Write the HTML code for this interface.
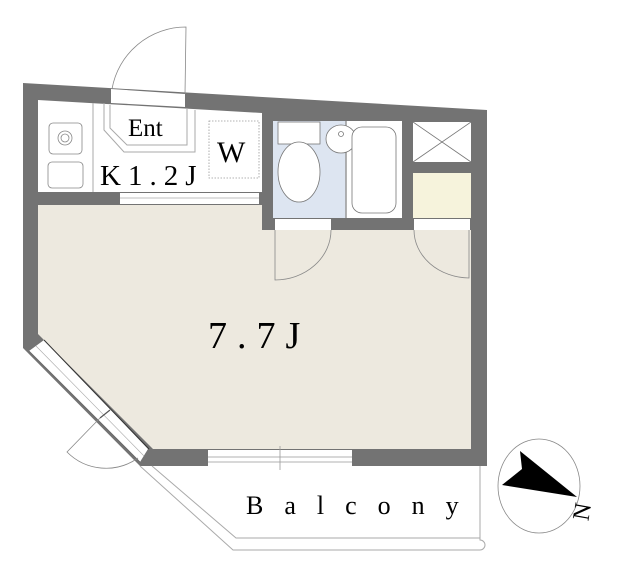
<!DOCTYPE html>
<html><head><meta charset="utf-8"><style>body{margin:0;background:#fff}svg{display:block}</style></head><body>
<svg width="640" height="571" viewBox="0 0 640 571" xmlns="http://www.w3.org/2000/svg" font-family="Liberation Serif, serif">
<polygon points="23,83 487,110 487,466 140,466 23,348" fill="#737373"/>
<polygon points="38,100 262,113 262,192 38,192" fill="#fff"/>
<polygon points="38,205 262,205 262,230 471,230 471,449 153,449 38,334" fill="#ede9df"/>
<rect x="273" y="121" width="73" height="97" fill="#dde5f1"/>
<rect x="346" y="121" width="56" height="97" fill="#fff"/>
<line x1="346" y1="121" x2="346" y2="218" stroke="#999" stroke-width="1.5"/>
<rect x="413" y="122" width="58" height="40" fill="#fff"/>
<path d="M413,122 L471,162 M471,122 L413,162" stroke="#777" stroke-width="0.8"/>
<rect x="413" y="173" width="58" height="45" fill="#f6f3dc"/>
<rect x="278" y="122" width="42" height="22" fill="#fff" stroke="#777" stroke-width="0.8"/>
<ellipse cx="299" cy="172" rx="21" ry="30" fill="#fff" stroke="#777" stroke-width="0.8"/>
<ellipse cx="341" cy="139" rx="15" ry="14" fill="#fff" stroke="#777" stroke-width="0.8"/>
<circle cx="341" cy="134" r="2.5" fill="none" stroke="#777" stroke-width="0.8"/>
<rect x="352" y="127" width="44" height="86" rx="10" fill="#fff" stroke="#777" stroke-width="0.8"/>
<rect x="49" y="123" width="33" height="31" rx="4" fill="#fff" stroke="#888" stroke-width="0.8"/>
<circle cx="65" cy="138" r="7" fill="none" stroke="#888" stroke-width="0.8"/>
<circle cx="65" cy="138" r="4" fill="none" stroke="#888" stroke-width="0.8"/>
<rect x="48" y="162" width="35" height="26" rx="4" fill="#fff" stroke="#888" stroke-width="0.8"/>
<line x1="93" y1="103" x2="93" y2="192" stroke="#aaa" stroke-width="1"/>
<path d="M104,103 L104,130 L124,152 L195,152 L195,110" fill="none" stroke="#aaa" stroke-width="1"/>
<path d="M110,105 L110,128 L127,145 L187,145 L187,108" fill="none" stroke="#aaa" stroke-width="1"/>
<rect x="209" y="121" width="50" height="57" fill="none" stroke="#999" stroke-width="0.8" stroke-dasharray="1.5,1.5"/>
<polygon points="111,89 185,94 185,107 111,103" fill="#fff"/>
<path d="M185,94 L186,27 A75,75 0 0 0 112,89" fill="none" stroke="#888" stroke-width="0.8"/>
<rect x="120" y="193" width="139" height="11" fill="#fff"/>
<line x1="120" y1="198" x2="259" y2="198" stroke="#aaa" stroke-width="0.8"/>
<rect x="275" y="219" width="56" height="11" fill="#fff"/>
<path d="M331,230 A56,50 0 0 1 275,280 L275,230" fill="none" stroke="#888" stroke-width="0.8"/>
<rect x="414" y="219" width="56" height="11" fill="#fff"/>
<path d="M414,230 A56,48 0 0 0 469,278 L469,230" fill="none" stroke="#888" stroke-width="0.8"/>
<rect x="208" y="450" width="144" height="16" fill="#fff"/>
<path d="M208,457 L352,457 M208,462 L352,462 M280,446 L280,470" stroke="#999" stroke-width="0.8"/>
<polygon points="44,340 148,449 140,462 29,351" fill="#fff"/>
<line x1="44" y1="340" x2="149" y2="449" stroke="#333" stroke-width="1"/>
<line x1="29" y1="351" x2="140" y2="462" stroke="#666" stroke-width="0.8"/>
<line x1="36" y1="346" x2="144" y2="456" stroke="#aaa" stroke-width="0.6"/>
<line x1="110" y1="410" x2="100" y2="418" stroke="#555" stroke-width="1.2"/>
<path d="M100,418 L67,452 A55,55 0 0 0 138,458" fill="none" stroke="#888" stroke-width="0.8"/>
<path d="M140,466 L233,550 L480,550 A5,5 0 0 0 480,540 L480,466" fill="none" stroke="#aaa" stroke-width="1"/>
<path d="M152,466 L236,538 L480,538" fill="none" stroke="#aaa" stroke-width="1"/>
<ellipse cx="539" cy="486" rx="41" ry="47" fill="#fff" stroke="#888" stroke-width="0.8"/>
<polygon points="520,451 577,497 502,485 522,469" fill="#000"/>
<text x="582" y="510" font-size="24" transform="rotate(-80 592 512)">N</text>
<text x="128" y="136" font-size="25">Ent</text>
<text x="217" y="162" font-size="30">W</text>
<text x="100" y="185" font-size="29" letter-spacing="7">K1.2J</text>
<text x="208" y="348" font-size="38" letter-spacing="10">7.7J</text>
<text x="246" y="514" font-size="26" letter-spacing="21">Balcony</text>
</svg>
</body></html>
